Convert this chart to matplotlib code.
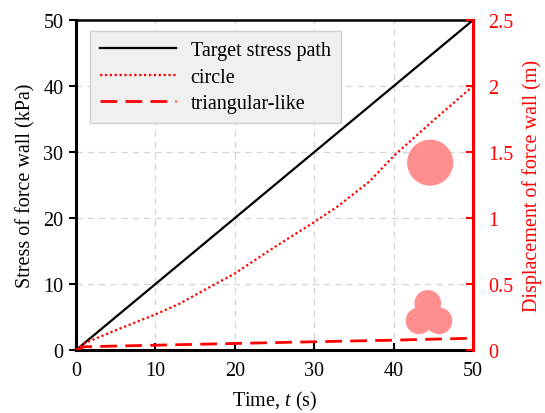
import matplotlib
matplotlib.use('Agg')
import matplotlib.pyplot as pl
import numpy as np

# data
t_target = [0, 50]
stress_target = [0, 50]

t_circle = [0, 1, 5, 10, 13, 16, 20, 25, 30, 33, 37, 40, 45, 50]
d_circle = [0, 0.05, 0.15, 0.27, 0.35, 0.45, 0.58, 0.78, 0.97, 1.09, 1.28, 1.47, 1.74, 2.0]

t_tri = [0, 1, 10, 20, 30, 40, 50]
d_tri = [0, 0.025, 0.037, 0.05, 0.063, 0.075, 0.09]

# particle sketches (position in t / displacement)
big_t, big_d = [44.6], [1.42]
small_t = [44.3, 43.2, 45.7]
small_d = [0.354, 0.222, 0.222]

pl.rcParams['font.family'] = ['Liberation Serif', 'DejaVu Serif']
pl.rcParams['mathtext.fontset'] = 'custom'
pl.rcParams['mathtext.it'] = 'Liberation Serif:italic'
pl.rcParams['mathtext.rm'] = 'Liberation Serif'
pl.rcParams['font.size'] = 14.5

fig = pl.figure(figsize=(5.45, 4.14), dpi=100)
ax = fig.add_axes([0.1394, 0.152, 0.7286, 0.797])
ax2 = ax.twinx()

ax.grid(True, color='#d4d4d4', linestyle=(0, (5, 4)), linewidth=0.9)
ax.set_axisbelow(True)

l1, = ax.plot(t_target, stress_target, color='black', lw=1.6, label='Target stress path')
l2, = ax2.plot(t_circle, d_circle, color='red', lw=1.6, linestyle=(0, (1, 1.2)), label='circle')
l3, = ax2.plot(t_tri, d_tri, color='red', lw=2.0, linestyle=(0, (6, 3)), label='triangular-like')

ax2.scatter(big_t, big_d, s=1100, color='#ff8f8f', edgecolors='none', zorder=3)
ax2.scatter(small_t, small_d, s=370, color='#ff8f8f', edgecolors='none', zorder=3)

ax.set_xlim(0, 50)
ax.set_ylim(0, 50)
ax2.set_ylim(0, 2.5)
ax.set_xticks([0, 10, 20, 30, 40, 50])
ax.set_yticks([0, 10, 20, 30, 40, 50])
ax2.set_yticks([0, 0.5, 1, 1.5, 2, 2.5])
ax2.set_yticklabels(['0', '0.5', '1', '1.5', '2', '2.5'])

ax.tick_params(axis='x', direction='in', length=5, width=1.5, pad=8)
ax.tick_params(axis='y', direction='out', length=5, width=1.5, pad=4)
ax2.tick_params(axis='y', direction='in', length=5, width=1.5, colors='red', pad=11)

for side in ['left', 'bottom', 'top']:
    ax.spines[side].set_linewidth(2.2)
    ax2.spines[side].set_visible(False)
ax.spines['top'].set_linewidth(1.8)
ax2.spines['right'].set_color('red')
ax2.spines['right'].set_linewidth(2.2)
ax.spines['right'].set_visible(False)

ax.set_xlabel('Time, $t$ (s)', labelpad=6)
ax.set_ylabel('Stress of force wall (kPa)', labelpad=6)
ax2.set_ylabel('Displacement of force wall (m)', color='red', labelpad=6)

leg = ax2.legend(handles=[l1, l2, l3], loc='upper left', bbox_to_anchor=(0.035, 0.967),
                 borderaxespad=0, fancybox=False, framealpha=1,
                 facecolor='#f0f0f0', edgecolor='#d0d0d0',
                 handlelength=3.8, handletextpad=0.7, borderpad=0.5, labelspacing=0.37,
                 fontsize=14.5)
leg.get_frame().set_linewidth(1.0)

fig.savefig('out.png', dpi=100)
